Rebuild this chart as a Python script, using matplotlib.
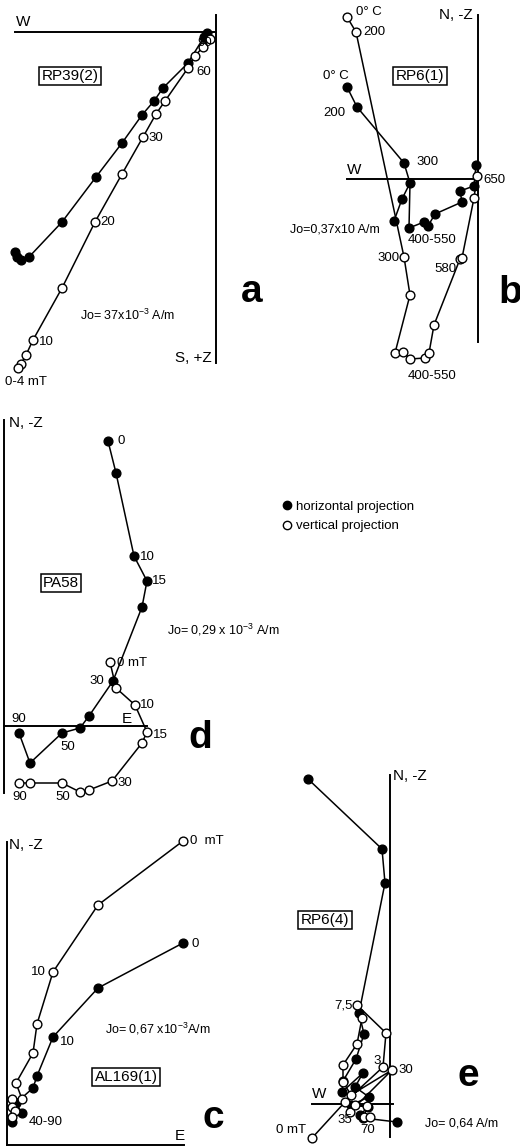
import matplotlib
matplotlib.use('Agg')
import matplotlib.pyplot as plt
from matplotlib import transforms
from matplotlib.lines import Line2D

plt.rcParams['font.family'] = ['Liberation Sans', 'DejaVu Sans']
plt.rcParams['mathtext.default'] = 'regular'

W, H = 520, 1148

# Zijderveld data, units relative to each diagram's axis crossing (x right, y up)
a_hor_x = [-9, -12, -28, -53, -62, -74, -94, -120, -154, -187, -195, -199, -201]
a_hor_y = [-1, -5, -31, -56, -69, -83, -111, -145, -190, -225, -228, -225, -220]
a_ver_x = [-6, -13, -21, -28, -51, -60, -73, -94, -121, -154, -183, -190, -195, -198]
a_ver_y = [-7, -15, -24, -36, -69, -82, -105, -142, -190, -256, -308, -323, -332, -336]

b_hor_x = [-131, -121, -74, -68, -69, -54, -50, -43, -16, -18, -4, -2]
b_hor_y = [92, 72, 16, -4, -49, -43, -47, -35, -23, -12, -7, 14]
b_branch_x = [-68, -76, -84]
b_branch_y = [-4, -20, -42]
b_ver_x = [-131, -122, -74, -68, -83, -75, -68, -53, -49, -44, -18, -16, -4, -1]
b_ver_y = [162, 147, -78, -116, -174, -173, -180, -179, -174, -146, -80, -79, -19, 3]

d_hor_x = [104, 112, 130, 143, 138, 109, 85, 76, 58, 26, 15]
d_hor_y = [285, 253, 170, 145, 119, 45, 10, -2, -7, -37, -7]
d_ver_x = [106, 112, 131, 143, 138, 108, 85, 76, 58, 26, 15]
d_ver_y = [64, 38, 21, -6, -17, -55, -64, -66, -57, -57, -57]

c_hor_x = [176, 91, 46, 30, 26, 9, 15, 8, 5]
c_hor_y = [202, 157, 108, 69, 57, 42, 32, 34, 23]
c_ver_x = [176, 91, 46, 30, 26, 9, 15, 5, 5, 8, 5]
c_ver_y = [304, 240, 173, 121, 92, 62, 46, 46, 38, 34, 28]

e_hor_x = [-82, -8, -5, -31, -26, -34, -47, -48, -27, -35, -21, -39, -22, -30, -27, 7]
e_hor_y = [325, 255, 221, 91, 70, 45, 23, 12, 31, 17, 7, -1, -3, -11, -14, -18]
e_ver_x = [-78, -45, -7, -4, -33, -28, -33, -47, -47, -39, 2, -40, -35, -23, -26, -20]
e_ver_y = [-34, 2, 37, 71, 99, 86, 60, 39, 22, 9, 34, -8, -1, -2, -13, -13]

fig = plt.figure(figsize=(W / 100, H / 100), dpi=100)
PX = transforms.Affine2D().scale(1 / W, -1 / H).translate(0, 1) + fig.transFigure


def panel(origin, box):
    x0, y0 = origin
    l, t, r, b = box
    ax = fig.add_axes([l / W, 1 - b / H, (r - l) / W, (b - t) / H])
    ax.set_xlim(l - x0, r - x0)
    ax.set_ylim(y0 - b, y0 - t)
    ax.axis('off')
    return ax


def axes_cross(ax, xs, ys):
    ax.plot(xs, [0, 0], color='k', lw=1.4, clip_on=False, zorder=1)
    ax.plot([0, 0], ys, color='k', lw=1.4, clip_on=False, zorder=1)


def proj(ax, x, y, filled):
    ax.plot(x, y, '-', color='k', lw=1.1, zorder=2, clip_on=False)
    ax.plot(x, y, 'o', ms=6.3, mew=1.0, mec='k', mfc='k' if filled else 'white',
            zorder=3, clip_on=False)


def put(x, y, s, size=9.5, ha='left', **kw):
    fig.text(x, y, s, transform=PX, fontsize=size, ha=ha, va='center', **kw)


def boxed(x, y, s):
    fig.text(x, y, s, transform=PX, fontsize=11, ha='center', va='center',
             bbox=dict(boxstyle='square,pad=0.15', fc='white', ec='k', lw=1.1))


def big(x, y, s):
    fig.text(x, y, s, transform=PX, fontsize=28, ha='center', va='center',
             fontweight='bold')


# a
ax = panel((216, 32), (0, 0, 262, 400))
axes_cross(ax, [-201, 0], [17, -331])
proj(ax, a_hor_x, a_hor_y, True)
proj(ax, a_ver_x, a_ver_y, False)
put(16, 22, 'W', 11)
put(212, 358, 'S, +Z', 11, ha='right')
boxed(70, 76, 'RP39(2)')
for x, y, s in [(197, 43, '90'), (196, 72, '60'), (148, 138, '30'),
                (100, 222, '20'), (39, 342, '10'), (5, 382, '0-4 mT')]:
    put(x, y, s)
put(80, 315, 'Jo= 37x10$^{-3}$ A/m', 9)
big(252, 292, 'a')

# b
ax = panel((478, 179), (262, 0, 520, 400))
axes_cross(ax, [-131, 0], [164, -163])
proj(ax, b_hor_x, b_hor_y, True)
ax.plot(b_branch_x, b_branch_y, '-', color='k', lw=1.1, zorder=2)
ax.plot(b_branch_x[1:], b_branch_y[1:], 'o', ms=6.3, mfc='k', mec='k', zorder=3)
proj(ax, b_ver_x, b_ver_y, False)
put(347, 170, 'W', 11)
put(473, 15, 'N, -Z', 11, ha='right')
boxed(420, 76, 'RP6(1)')
for x, y, s in [(356, 12, '0° C'), (363, 32, '200'), (323, 76, '0° C'),
                (323, 113, '200'), (416, 162, '300'), (483, 180, '650'),
                (408, 240, '400-550'), (377, 258, '300'), (434, 269, '580'),
                (408, 376, '400-550')]:
    put(x, y, s)
put(290, 229, 'Jo=0,37x10 A/m', 9)
big(510, 293, 'b')

# d
ax = panel((4, 726), (0, 400, 270, 810))
axes_cross(ax, [0, 143], [306, -67])
proj(ax, d_hor_x, d_hor_y, True)
proj(ax, d_ver_x, d_ver_y, False)
put(9, 423, 'N, -Z', 11)
put(122, 719, 'E', 11)
boxed(61, 583, 'PA58')
for x, y, s in [(117, 441, '0'), (140, 557, '10'), (152, 581, '15'),
                (117, 663, '0 mT'), (89, 681, '30'), (140, 705, '10'),
                (153, 735, '15'), (11, 719, '90'), (60, 747, '50'),
                (12, 797, '90'), (55, 797, '50'), (117, 783, '30')]:
    put(x, y, s)
put(167, 630, 'Jo= 0,29 x 10$^{-3}$ A/m', 9)
big(200, 738, 'd')

fig.legend(handles=[Line2D([], [], ls='none', marker='o', ms=6, mfc='k', mec='k'),
                    Line2D([], [], ls='none', marker='o', ms=6, mfc='white', mec='k')],
           labels=['horizontal projection', 'vertical projection'],
           loc='upper left', bbox_to_anchor=(272 / W, 1 - 494 / H), frameon=False,
           fontsize=9.5, handletextpad=0.1, labelspacing=0.55, handlelength=1.2,
           borderpad=0)

# c
ax = panel((7, 1145), (0, 810, 262, 1148))
axes_cross(ax, [0, 177], [303, 0])
proj(ax, c_hor_x, c_hor_y, True)
proj(ax, c_ver_x, c_ver_y, False)
put(9, 845, 'N, -Z', 11)
put(175, 1136, 'E', 11)
boxed(126, 1077, 'AL169(1)')
for x, y, s in [(190, 841, '0  mT'), (191, 944, '0'), (31, 972, '10'),
                (60, 1042, '10'), (29, 1122, '40-90')]:
    put(x, y, s)
put(105, 1029, 'Jo= 0,67 x10$^{-3}$A/m', 9)
big(213, 1118, 'c')

# e
ax = panel((390, 1104), (262, 760, 520, 1148))
axes_cross(ax, [-78, 3], [329, -33])
proj(ax, e_hor_x, e_hor_y, True)
proj(ax, e_ver_x, e_ver_y, False)
put(312, 1094, 'W', 11)
put(393, 776, 'N, -Z', 11)
boxed(325, 920, 'RP6(4)')
for x, y, s in [(334, 1005, '7,5'), (373, 1061, '3'), (398, 1070, '30'),
                (337, 1120, '35'), (360, 1130, '70'), (276, 1130, '0 mT')]:
    put(x, y, s)
put(425, 1123, 'Jo= 0,64 A/m', 9)
big(468, 1076, 'e')

fig.savefig('out.png', dpi=100, facecolor='white')
